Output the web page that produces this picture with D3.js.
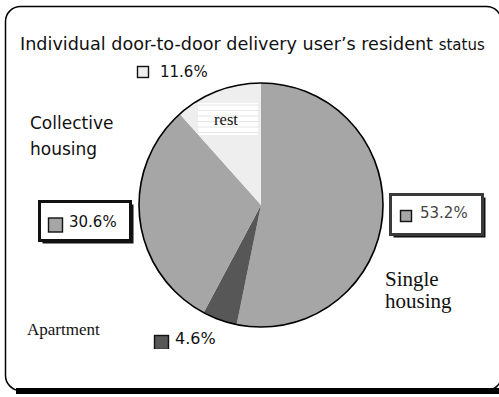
<!DOCTYPE html>
<html>
<head>
<meta charset="utf-8">
<script src="https://cdn.jsdelivr.net/npm/d3@7/dist/d3.min.js"></script>
<style>
  html, body { margin: 0; padding: 0; background: #fff; }
  svg { display: block; }
</style>
</head>
<body>
<svg id="chart" width="499" height="397"></svg>
<script>
// Shares of users by housing type, clockwise from 12 o'clock
const categories = ["Single housing", "Apartment", "Collective housing", "rest"];
const shares = [53.2, 4.6, 30.6, 11.6];
const shareLabels = ["53.2%", "4.6%", "30.6%", "11.6%"];
const sliceColors = ["#a6a6a6", "#575757", "#a6a6a6", "#eeeeee"];

const svg = d3.select("#chart");

// Outer frame: rounded box with heavy bottom shadow
svg.append("rect")
  .attr("x", 16).attr("y", 388).attr("width", 490).attr("height", 6)
  .attr("fill", "#000");
svg.append("rect")
  .attr("x", 5.5).attr("y", 6.5).attr("width", 496).attr("height", 384)
  .attr("rx", 15).attr("ry", 15)
  .attr("fill", "none").attr("stroke", "#000").attr("stroke-width", 1.5);

// Title
const title = svg.append("text")
  .attr("x", 20).attr("y", 50)
  .attr("font-family", "DejaVu Sans, Verdana, sans-serif")
  .attr("fill", "#111");
title.append("tspan").attr("font-size", 17.6).text("Individual door-to-door delivery user\u2019s resident ");
title.append("tspan").attr("font-size", 15).text("status");

// Pie
const cx = 261, cy = 205, R = 122;
const pie = d3.pie().sort(null).value(d => d)(shares);
const arc = d3.arc().innerRadius(0).outerRadius(R);
const g = svg.append("g").attr("transform", `translate(${cx},${cy})`);
g.selectAll("path.slice")
  .data(pie)
  .join("path")
  .attr("class", "slice")
  .attr("d", arc)
  .attr("fill", (d, i) => sliceColors[i]);
g.append("circle").attr("r", R)
  .attr("fill", "none").attr("stroke", "#000").attr("stroke-width", 1.6);

// "rest" tag inside the light slice
const restTag = svg.append("g");
restTag.append("rect").attr("x", 198).attr("y", 103).attr("width", 60).attr("height", 32).attr("fill", "#fff");
d3.range(6).forEach(k => {
  restTag.append("line")
    .attr("x1", 198).attr("x2", 258)
    .attr("y1", 105 + k * 5.5).attr("y2", 105 + k * 5.5)
    .attr("stroke", "#e6e6e6").attr("stroke-width", 1);
});
restTag.append("text").attr("x", 226).attr("y", 125)
  .attr("text-anchor", "middle")
  .attr("font-family", "Liberation Serif, Times New Roman, serif")
  .attr("font-size", 16.5).attr("fill", "#111")
  .text(categories[3]);

// Value labels with colour swatches
const sans = "DejaVu Sans, Verdana, sans-serif";

function swatch(x, y, s, i) {
  svg.append("rect").attr("x", x).attr("y", y).attr("width", s).attr("height", s)
    .attr("fill", sliceColors[i]).attr("stroke", "#111").attr("stroke-width", 1.4);
}
function valueText(x, y, i, fill, size) {
  svg.append("text").attr("x", x).attr("y", y)
    .attr("font-family", sans).attr("font-size", size || 15)
    .attr("fill", fill || "#111")
    .text(shareLabels[i]);
}
function boxed(x, y, w, h, stroke) {
  svg.append("rect").attr("x", x + 3).attr("y", y + 3).attr("width", w).attr("height", h)
    .attr("fill", "#111");
  svg.append("rect").attr("x", x).attr("y", y).attr("width", w).attr("height", h)
    .attr("fill", "#fff").attr("stroke", stroke).attr("stroke-width", 3);
}

// 11.6% (rest)
swatch(137.5, 66.5, 11, 3);
valueText(160, 77, 3);

// 30.6% (collective)
boxed(39.5, 201.5, 91, 39, "#111");
swatch(48.5, 218, 14, 2);
valueText(69, 227, 2);

// 53.2% (single)
boxed(390.5, 194.5, 92, 40, "#3a3a3a");
swatch(400.5, 210.5, 11, 0);
valueText(420, 218, 0, "#444");

// 4.6% (apartment), swatch clipped at the bottom like a partial tag
svg.append("rect").attr("x", 154.5).attr("y", 335.5).attr("width", 14).attr("height", 14)
  .attr("fill", sliceColors[1]).attr("stroke", "#111").attr("stroke-width", 1.4);
svg.append("rect").attr("x", 150).attr("y", 349).attr("width", 24).attr("height", 6).attr("fill", "#fff");
valueText(175, 344, 1, "#111", 16);

// Category names
svg.append("text").attr("font-family", sans).attr("font-size", 17).attr("fill", "#111")
  .selectAll("tspan").data(["Collective", "housing"]).join("tspan")
  .attr("x", 30).attr("y", (d, i) => 129 + i * 26).text(d => d);

svg.append("text").attr("font-family", "Liberation Serif, Times New Roman, serif")
  .attr("font-size", 21).attr("fill", "#111")
  .selectAll("tspan").data(["Single", "housing"]).join("tspan")
  .attr("x", 385).attr("y", (d, i) => 286 + i * 22).text(d => d);

svg.append("text").attr("x", 27).attr("y", 335)
  .attr("font-family", "Liberation Serif, Times New Roman, serif")
  .attr("font-size", 17).attr("fill", "#111")
  .text(categories[1]);
</script>
</body>
</html>
